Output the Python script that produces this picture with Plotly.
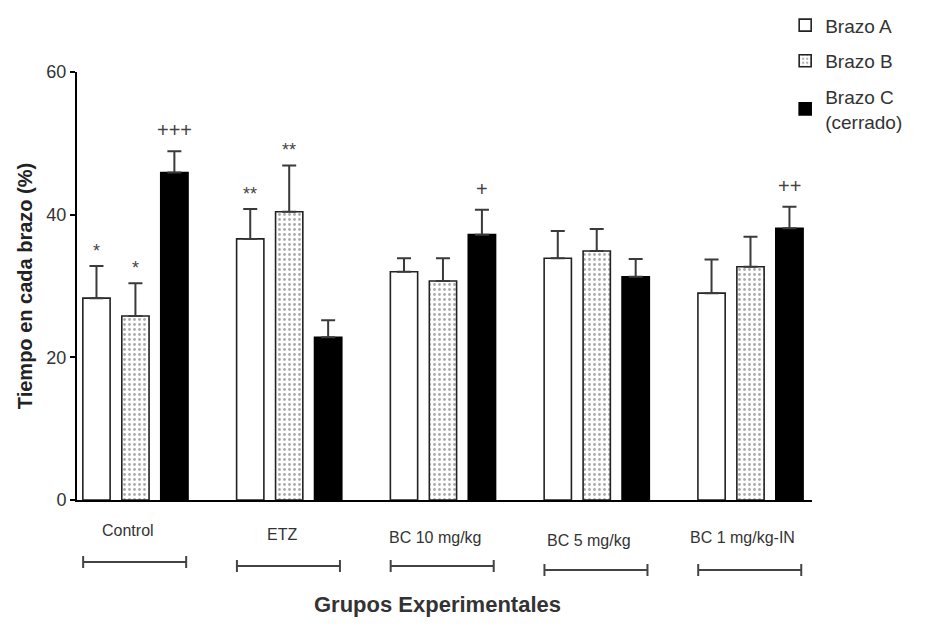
import plotly.graph_objects as go

# Groups and per-arm results (mean time in each arm, % ; SEM)
grupos = ["Control", "ETZ", "BC 10 mg/kg", "BC 5 mg/kg", "BC 1 mg/kg-IN"]
brazo_a = [28.3, 36.6, 32.0, 33.9, 29.0]
brazo_a_sem = [4.5, 4.2, 1.9, 3.8, 4.7]
brazo_b = [25.8, 40.4, 30.7, 34.9, 32.7]
brazo_b_sem = [4.6, 6.5, 3.2, 3.1, 4.2]
brazo_c = [45.9, 22.8, 37.2, 31.3, 38.1]
brazo_c_sem = [3.0, 2.4, 3.5, 2.5, 3.0]

# Significance marks drawn over each bar ("" = none)
sig_a = ["*", "**", "", "", ""]
sig_b = ["*", "**", "", "", ""]
sig_c = ["+++", "", "+", "", "++"]

FONT = "Arial, Liberation Sans, sans-serif"
TXT = "#2a2a2a"
PLOT_H = 428.0

x = list(range(len(grupos)))

def err(sem):
    return dict(type="data", array=sem, arrayminus=[0] * len(sem),
                symmetric=False, color="#3a3a3a", thickness=2, width=7)

fig = go.Figure()
fig.add_trace(go.Bar(
    name="Brazo A", x=x, y=brazo_a, error_y=err(brazo_a_sem),
    marker=dict(color="white", line=dict(color="#222", width=1.6)),
    legendgroup="a"))
fig.add_trace(go.Bar(
    name="Brazo B", x=x, y=brazo_b, error_y=err(brazo_b_sem),
    marker=dict(color="white", line=dict(color="#222", width=1.6),
                pattern=dict(shape=".", size=5, solidity=0.25,
                             fgcolor="#555", bgcolor="white")),
    legendgroup="b"))
fig.add_trace(go.Bar(
    name="Brazo C<br>(cerrado)", x=x, y=brazo_c, error_y=err(brazo_c_sem),
    marker=dict(color="black", line=dict(color="black", width=1.6)),
    legendgroup="c"))

# Offsets of each bar within its group (3 bars, grouped layout)
bar_offsets = [-0.255, 0.0, 0.255]
annotations = []
for off, vals, sems, marks in [
    (bar_offsets[0], brazo_a, brazo_a_sem, sig_a),
    (bar_offsets[1], brazo_b, brazo_b_sem, sig_b),
    (bar_offsets[2], brazo_c, brazo_c_sem, sig_c),
]:
    for i, (v, s, m) in enumerate(zip(vals, sems, marks)):
        if not m:
            continue
        plus = m.startswith("+")
        annotations.append(dict(
            x=i + off, y=v + s, xref="x", yref="y", text=m,
            showarrow=False, yanchor="bottom",
            yshift=8 if plus else 3,
            font=dict(family=FONT, size=20 if plus else 18, color="#444")))

# Group labels and brackets under the axis
label_dy = [0, 4, 7, 10, 7]
bracket_dy = [0, 4, 4, 8, 8]
shapes = []
for i, name in enumerate(grupos):
    annotations.append(dict(
        x=i - 0.05, y=0, xref="x", yref="paper", text=name, showarrow=False,
        yanchor="top", yshift=-20 - label_dy[i],
        font=dict(family=FONT, size=16, color="#333")))
    pyb = (-62 - bracket_dy[i]) / PLOT_H
    x0, x1 = i - 0.34, i + 0.33
    shapes.append(dict(type="line", xref="x", yref="paper", x0=x0, x1=x1,
                       y0=pyb, y1=pyb, line=dict(color="#444", width=2)))
    for xe in (x0, x1):
        shapes.append(dict(type="line", xref="x", yref="paper", x0=xe, x1=xe,
                           y0=pyb - 6 / PLOT_H, y1=pyb + 6 / PLOT_H,
                           line=dict(color="#444", width=2)))

annotations.append(dict(
    x=0.5, y=0, xref="paper", yref="paper", text="<b>Grupos Experimentales</b>",
    showarrow=False, yanchor="top", yshift=-90, xshift=-7,
    font=dict(family=FONT, size=22, color="#333")))

fig.update_layout(
    width=927, height=624,
    margin=dict(l=77, r=115, t=72, b=124, autoexpand=False),
    paper_bgcolor="white", plot_bgcolor="white",
    barmode="group", bargap=0.24, bargroupgap=0.3,
    font=dict(family=FONT, color=TXT),
    showlegend=True,
    legend=dict(xref="container", yref="container", x=0.847, y=0.99,
                xanchor="left", yanchor="top",
                font=dict(family=FONT, size=19, color="#333"),
                tracegroupgap=8, itemwidth=30, bgcolor="rgba(0,0,0,0)"),
    xaxis=dict(range=[-0.38, 4.4], showticklabels=False, ticks="",
               showline=True, linecolor="black", linewidth=2,
               showgrid=False, zeroline=False, tickvals=x),
    yaxis=dict(range=[0, 60], tickvals=[0, 20, 40, 60],
               ticks="outside", ticklen=5, tickwidth=2, tickcolor="black",
               showline=True, linecolor="black", linewidth=2,
               showgrid=False, zeroline=False,
               tickfont=dict(family=FONT, size=18, color="#333"),
               title=dict(text="<b>Tiempo en cada brazo (%)</b>", standoff=8,
                          font=dict(family=FONT, size=20, color="#222"))),
    annotations=annotations, shapes=shapes,
)

fig.write_html("out.html")
